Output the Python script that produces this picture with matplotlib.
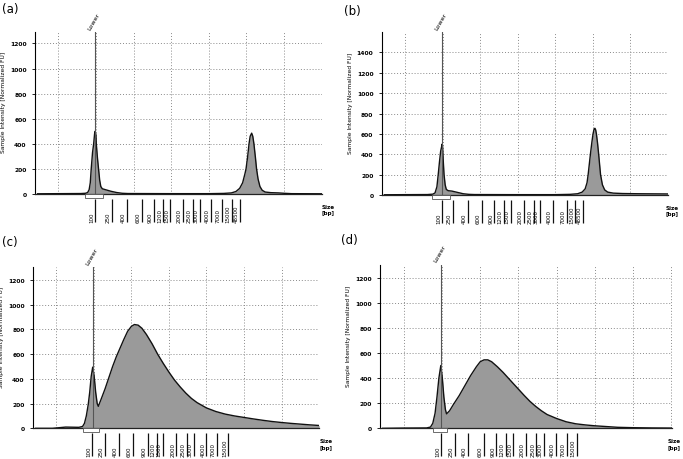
import matplotlib.pyplot as plt
import matplotlib.transforms as mtransforms
from matplotlib.patches import Rectangle

# x positions are in run units (grid lines at 1..8), y in Normalized FU
a_x = [0.45, 1.00, 1.60, 1.72, 1.78, 1.82, 1.85, 1.875, 1.91, 1.94, 1.965, 1.98, 2.00, 2.01, 2.04,
       2.07, 2.10, 2.13, 2.17, 2.25, 2.40, 2.55, 2.70, 2.85, 4.00, 5.00, 5.40, 5.60, 5.72, 5.82,
       5.90, 5.96, 5.99, 6.03, 6.07, 6.10, 6.14, 6.17, 6.20, 6.24, 6.27, 6.31, 6.36, 6.42, 6.50,
       6.65, 6.85, 7.00, 7.20, 8.00]
a_y = [2, 3, 4, 6, 12, 35, 90, 200, 330, 400, 480, 500, 470, 400, 290,
       200, 110, 60, 42, 35, 22, 12, 6, 4, 3, 3, 5, 9, 20, 45,
       90, 160, 200, 290, 400, 460, 485, 460, 400, 290, 200, 120, 60, 30, 16,
       11, 9, 6, 3, 2]

b_x = [0.45, 1.00, 1.60, 1.74, 1.80, 1.85, 1.885, 1.92, 1.95, 1.99, 2.00, 2.02, 2.04, 2.07, 2.10,
       2.15, 2.25, 2.40, 2.55, 2.70, 2.85, 4.00, 5.00, 5.40, 5.60, 5.72, 5.80, 5.85, 5.88, 5.94,
       5.98, 6.01, 6.04, 6.06, 6.08, 6.10, 6.13, 6.16, 6.21, 6.26, 6.32, 6.40, 6.55, 6.80, 7.20,
       7.60, 8.00]
b_y = [2, 3, 4, 8, 20, 80, 200, 330, 430, 500, 480, 330, 200, 100, 55,
       42, 38, 25, 12, 6, 4, 3, 3, 6, 12, 28, 60, 120, 200, 400,
       520, 600, 650, 655, 640, 600, 510, 400, 200, 100, 50, 28, 18, 14, 12,
       11, 10]

c_x = [0.45, 0.90, 1.25, 1.60, 1.70, 1.75, 1.80, 1.85, 1.89, 1.93, 1.97, 2.01, 2.05, 2.09, 2.12,
       2.20, 2.30, 2.40, 2.50, 2.60, 2.70, 2.80, 2.90, 3.00, 3.08, 3.18, 3.28, 3.40, 3.55, 3.70,
       3.85, 4.00, 4.15, 4.30, 4.45, 4.60, 4.75, 5.00, 5.25, 5.50, 5.75, 6.00, 6.25, 6.50, 6.75,
       7.00, 7.25, 7.50, 7.75, 8.00]
c_y = [0, 0, 10, 8, 15, 40, 100, 190, 290, 420, 495, 420, 290, 200, 178,
       240, 320, 410, 500, 580, 650, 720, 785, 825, 840, 835, 810, 760, 685, 600,
       525, 455, 390, 335, 285, 242, 208, 165, 136, 115, 100, 88, 76, 65, 55,
       47, 40, 34, 28, 23]

d_x = [0.45, 1.00, 1.60, 1.70, 1.76, 1.82, 1.87, 1.92, 1.97, 2.01, 2.05, 2.09, 2.12, 2.20, 2.30,
       2.45, 2.60, 2.75, 2.90, 3.00, 3.10, 3.20, 3.30, 3.45, 3.60, 3.75, 3.90, 4.00, 4.15, 4.30,
       4.45, 4.60, 4.75, 5.00, 5.25, 5.50, 5.75, 6.00, 6.30, 6.60, 7.00, 7.50, 8.00]
d_y = [0, 2, 3, 10, 40, 120, 250, 400, 500, 400, 250, 150, 115, 140, 190,
       260, 340, 420, 490, 530, 545, 545, 530, 490, 445, 395, 345, 312, 262, 215,
       175, 140, 110, 78, 52, 36, 27, 20, 14, 8, 5, 3, 2]

# ladder (size standard) labels and their positions
sizes_ab = ["100", "250", "400", "600", "900", "1200", "1500", "2000", "2500", "3000",
            "4000", "7000", "15000", "48500"]
sizes_cd = sizes_ab[:-1]
a_ladder = [1.98, 2.42, 2.82, 3.22, 3.55, 3.79, 3.97, 4.31, 4.58, 4.77, 5.05, 5.34, 5.61, 5.83]
b_ladder = [1.99, 2.27, 2.67, 3.05, 3.38, 3.63, 3.82, 4.16, 4.43, 4.60, 4.95, 5.31, 5.53, 5.75]
c_ladder = [1.96, 2.29, 2.67, 3.04, 3.44, 3.67, 3.84, 4.20, 4.47, 4.66, 5.00, 5.27, 5.58]
d_ladder = [1.98, 2.33, 2.68, 3.09, 3.42, 3.67, 3.86, 4.19, 4.47, 4.67, 4.98, 5.26, 5.52]

lower_pos = [1.97, 1.99, 1.97, 1.98]
lower_box = [(1.72, 2.18), (1.73, 2.21), (1.71, 2.13), (1.76, 2.13)]
y_tops = [1290, 1600, 1303, 1300]
y_ticks_max = [1200, 1400, 1200, 1200]
panel_names = ["(a)", "(b)", "(c)", "(d)"]

plt.rcParams['font.family'] = 'DejaVu Sans'

fig = plt.figure(figsize=(6.83, 4.6), dpi=100)
rects = [[0.0512, 0.576, 0.420, 0.352],
         [0.5589, 0.574, 0.419, 0.354],
         [0.0483, 0.0667, 0.4192, 0.350],
         [0.5564, 0.0667, 0.4268, 0.355]]
label_xy = [(0.003, 0.994), (0.503, 0.99), (0.003, 0.487), (0.500, 0.491)]
size_label_x = [1.0, 0.993, 1.0, 0.985]

traces = [(a_x, a_y), (b_x, b_y), (c_x, c_y), (d_x, d_y)]
ladders = [(sizes_ab, a_ladder), (sizes_ab, b_ladder), (sizes_cd, c_ladder), (sizes_cd, d_ladder)]

for i in range(4):
    ax = fig.add_axes(rects[i])
    xs, ys = traces[i]
    ax.fill_between(xs, ys, 0, color="#9a9a9a", lw=0, zorder=2)
    ax.plot(xs, ys, color="#111111", lw=1.0, zorder=3)

    ax.set_xlim(0.38, 8.005)
    ax.set_ylim(0, y_tops[i])
    ax.set_xticks(range(1, 9))
    ax.set_xticklabels([])
    ax.tick_params(axis="x", length=0)
    ax.set_yticks(range(0, y_ticks_max[i] + 1, 200))
    ax.tick_params(axis="y", length=2, width=0.6, pad=4, labelsize=4.3)
    for t in ax.get_yticklabels():
        t.set_fontweight("bold")
    ax.grid(True, linestyle=(0, (1, 2)), color="#8a8a8a", lw=0.7, zorder=1)
    for s in ["top", "right"]:
        ax.spines[s].set_visible(False)
    ax.spines["left"].set_linewidth(0.8)
    ax.spines["bottom"].set_linewidth(0.9)
    ax.spines["bottom"].set_color("#222222")

    ax.set_ylabel("Sample Intensity [Normalized FU]", fontsize=4.3)
    ax.yaxis.set_label_coords(-0.1, 0.57)

    # lower marker
    ax.axvline(lower_pos[i], color="#555555", lw=0.8, zorder=4)
    ax.annotate("Lower", xy=(lower_pos[i], y_tops[i]), xytext=(-2.5, 1.5),
                textcoords="offset points", rotation=60, rotation_mode="anchor",
                ha="left", va="bottom", fontsize=4.6, annotation_clip=False)
    trans = mtransforms.blended_transform_factory(ax.transData, ax.transAxes)
    x0, x1 = lower_box[i]
    ax.add_patch(Rectangle((x0, -0.022), x1 - x0, 0.022, transform=trans, clip_on=False,
                           facecolor="white", edgecolor="#555555", lw=0.6, zorder=5))

    # size ladder below the axis
    labels, pos = ladders[i]
    ax.vlines(pos, -0.17, -0.03, transform=trans, color="#111111", lw=0.9, clip_on=False)
    for lab, p in zip(labels, pos):
        ax.annotate(lab, xy=(p, -0.17), xycoords=trans, xytext=(-0.8, 0),
                    textcoords="offset points", rotation=90, ha="right", va="bottom",
                    fontsize=4.0, annotation_clip=False)
    ax.text(size_label_x[i], -0.06, "Size\n[bp]", transform=ax.transAxes, ha="left", va="top",
            fontsize=4.1, fontweight="bold", linespacing=1.4)

    fig.text(label_xy[i][0], label_xy[i][1], panel_names[i], ha="left", va="top", fontsize=8.5)

plt.savefig("out.png", dpi=100)
